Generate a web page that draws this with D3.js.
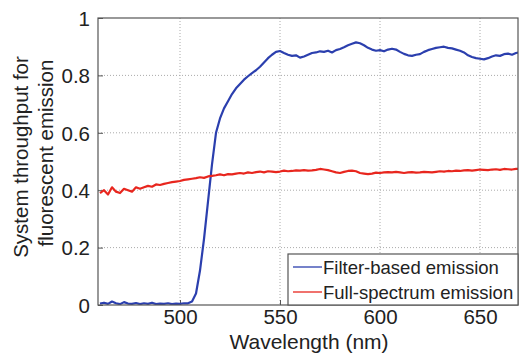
<!DOCTYPE html>
<html><head><meta charset="utf-8">
<script src="https://cdn.jsdelivr.net/npm/d3@7"></script>
<style>
body{margin:0;background:#fff;}
text{font-family:"Liberation Sans",Arial,sans-serif;fill:#222;}
</style></head>
<body><svg id="c" width="521" height="353"></svg>
<script>
const wavelengths = d3.range(460, 672, 2);
const filterBased = [0.005,0.008,0.004,0.012,0.006,0.003,0.010,0.005,0.004,0.007,
0.003,0.006,0.004,0.008,0.003,0.005,0.004,0.006,0.003,0.005,
0.004,0.006,0.006,0.012,0.040,0.120,0.230,0.360,0.490,0.600,
0.650,0.685,0.710,0.735,0.755,0.770,0.785,0.797,0.808,0.818,
0.830,0.845,0.860,0.872,0.882,0.885,0.878,0.872,0.868,0.870,
0.862,0.866,0.872,0.878,0.880,0.884,0.882,0.886,0.880,0.888,
0.892,0.898,0.905,0.910,0.915,0.912,0.905,0.896,0.890,0.886,
0.888,0.884,0.890,0.893,0.890,0.882,0.875,0.870,0.868,0.872,
0.874,0.882,0.888,0.892,0.896,0.898,0.900,0.896,0.894,0.890,
0.886,0.880,0.870,0.864,0.860,0.858,0.856,0.860,0.866,0.870,
0.868,0.874,0.876,0.872,0.878,0.880];
const fullSpectrum = [0.390,0.400,0.385,0.410,0.395,0.390,0.405,0.400,0.395,0.410,
0.405,0.410,0.415,0.412,0.420,0.418,0.422,0.425,0.428,0.430,
0.432,0.436,0.438,0.440,0.442,0.445,0.443,0.448,0.450,0.452,
0.455,0.452,0.456,0.455,0.458,0.460,0.458,0.462,0.460,0.463,
0.465,0.462,0.466,0.465,0.463,0.465,0.468,0.466,0.467,0.469,
0.468,0.470,0.468,0.469,0.471,0.474,0.472,0.470,0.466,0.462,
0.460,0.464,0.467,0.468,0.466,0.460,0.458,0.456,0.458,0.461,
0.460,0.462,0.463,0.462,0.464,0.462,0.460,0.462,0.463,0.461,
0.462,0.464,0.463,0.462,0.464,0.466,0.465,0.467,0.466,0.468,
0.467,0.469,0.470,0.468,0.470,0.472,0.471,0.470,0.472,0.473,
0.471,0.474,0.473,0.472,0.474,0.475];
const xTicks = [500, 550, 600, 650];
const yTicks = [0, 0.2, 0.4, 0.6, 0.8, 1];
const yTickLabels = ["0", "0.2", "0.4", "0.6", "0.8", "1"];
const seriesNames = ["Filter-based emission", "Full-spectrum emission"];
const seriesColors = ["#2b3fae", "#e8261e"];

const svg = d3.select("#c");
const m = {l: 98, t: 18, r: 3, b: 48};
const W = 521, H = 353;
const x = d3.scaleLinear().domain([459, 669]).range([m.l, W - m.r]);
const y = d3.scaleLinear().domain([0, 1]).range([H - m.b, m.t]);

svg.append("defs").append("clipPath").attr("id", "clip")
  .append("rect").attr("x", m.l).attr("y", m.t).attr("width", W - m.r - m.l).attr("height", H - m.b - m.t);

// grid
const g = svg.append("g");
g.selectAll(".vg").data(xTicks).join("line")
  .attr("x1", d => x(d)).attr("x2", d => x(d)).attr("y1", m.t).attr("y2", H - m.b)
  .attr("stroke", "#aaa").attr("stroke-width", 1).attr("stroke-dasharray", "1,2");
g.selectAll(".hg").data(yTicks.slice(1, -1)).join("line")
  .attr("x1", m.l).attr("x2", W - m.r).attr("y1", d => y(d)).attr("y2", d => y(d))
  .attr("stroke", "#aaa").attr("stroke-width", 1).attr("stroke-dasharray", "1,2");

// axes
const xAxis = d3.axisBottom(x).tickValues(xTicks).tickSize(-5).tickPadding(5);
const yAxis = d3.axisLeft(y).tickValues(yTicks).tickFormat((d, i) => yTickLabels[i]).tickSize(-5).tickPadding(8);
const gx = svg.append("g").attr("transform", `translate(0,${H - m.b})`).call(xAxis);
const gy = svg.append("g").attr("transform", `translate(${m.l},0)`).call(yAxis);
[gx, gy].forEach(a => {
  a.select(".domain").remove();
  a.selectAll("line").attr("stroke", "#555");
  a.selectAll("text").attr("font-size", 20.5).attr("fill", "#222")
    .style("font-family", "'Liberation Sans', Arial, sans-serif");
});
gx.selectAll("text").attr("dy", "0.7em");
gy.selectAll("text").attr("dy", "0.36em");

// lines
const line = d3.line().x((d, i) => x(wavelengths[i])).y(d => y(d));
const lg = svg.append("g").attr("clip-path", "url(#clip)");
[filterBased, fullSpectrum].forEach((s, i) => {
  lg.append("path").datum(s).attr("d", line).attr("fill", "none")
    .attr("stroke", seriesColors[i]).attr("stroke-width", 2.2).attr("stroke-linejoin", "round");
});

// frame
svg.append("rect").attr("x", m.l).attr("y", m.t).attr("width", W - m.r - m.l).attr("height", H - m.b - m.t)
  .attr("fill", "none").attr("stroke", "#555").attr("stroke-width", 1.2);

// legend
const lgX = 288, lgY = 254, lgW = W - m.r - lgX, lgH = H - m.b - lgY;
const leg = svg.append("g");
leg.append("rect").attr("x", lgX).attr("y", lgY).attr("width", lgW).attr("height", lgH)
  .attr("fill", "#fff").attr("stroke", "#555").attr("stroke-width", 1.2);
seriesNames.forEach((n, i) => {
  const yy = lgY + 13 + i * 25;
  leg.append("line").attr("x1", lgX + 5).attr("x2", lgX + 34).attr("y1", yy).attr("y2", yy)
    .attr("stroke", seriesColors[i]).attr("stroke-width", 1.3);
  leg.append("text").attr("x", lgX + 35).attr("y", yy + 7).attr("font-size", 18.5).text(n);
});

// axis titles
svg.append("text").attr("x", 309).attr("y", 349).attr("text-anchor", "middle")
  .attr("font-size", 21).text("Wavelength (nm)");
svg.append("text").attr("transform", `translate(28,157) rotate(-90)`)
  .attr("text-anchor", "middle").attr("font-size", 20.5).text("System throughput for");
svg.append("text").attr("transform", `translate(53,153) rotate(-90)`)
  .attr("text-anchor", "middle").attr("font-size", 20.5).text("fluorescent emission");
</script></body></html>
